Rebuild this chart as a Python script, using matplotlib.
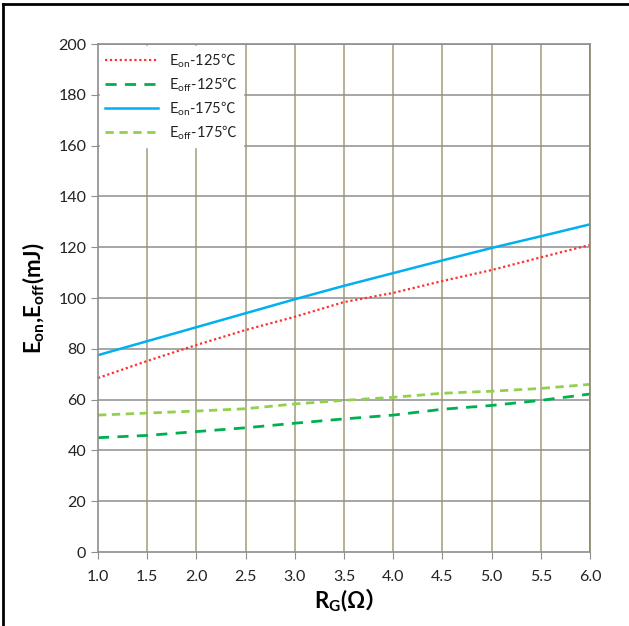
import matplotlib.pyplot as plt
from matplotlib.lines import Line2D

plt.rcParams['mathtext.fontset'] = 'custom'
plt.rcParams['mathtext.rm'] = 'Lato'
plt.rcParams['mathtext.bf'] = 'Lato:bold'
plt.rcParams['mathtext.it'] = 'Lato:italic'
plt.rcParams['mathtext.sf'] = 'Noto Sans CJK SC'
plt.rcParams['mathtext.cal'] = 'Noto Sans CJK SC:bold'

# data
rg = [1.0, 1.5, 2.0, 2.5, 3.0, 3.5, 4.0, 4.5, 5.0, 5.5, 6.0]
eon_125 = [68.5, 75.2, 81.5, 87.4, 92.6, 98.4, 102.0, 106.7, 111.0, 116.0, 120.9]
eoff_125 = [45.0, 45.9, 47.4, 48.9, 50.7, 52.4, 53.9, 56.2, 57.7, 59.7, 62.2]
eon_175 = [77.5, 83.0, 88.5, 94.0, 99.5, 104.8, 109.8, 114.8, 119.7, 124.3, 129.0]
eoff_175 = [53.9, 54.7, 55.5, 56.4, 58.3, 59.7, 60.9, 62.5, 63.3, 64.4, 66.0]
x_ticks = [1.0, 1.5, 2.0, 2.5, 3.0, 3.5, 4.0, 4.5, 5.0, 5.5, 6.0]
y_ticks = [0, 20, 40, 60, 80, 100, 120, 140, 160, 180, 200]

fam = ['Lato', 'DejaVu Sans', 'Noto Sans CJK SC']
deg = '$\\mathsf{℃}$'

fig = plt.figure(figsize=(6.29, 6.26), dpi=100)
ax = fig.add_axes([98/629, 1-552/626, 492/629, 508/626])

# grid: vertical olive, horizontal grey
for xv in x_ticks[1:]:
    ax.axvline(xv, color='#A39B78', lw=1.1, zorder=0)
for yv in y_ticks[1:]:
    ax.axhline(yv, color='#8E8E8E', lw=1.1, zorder=0)

ax.plot(rg, eon_125, color='#FF3030', lw=1.6, linestyle=(0, (1, 1.2)), label='E$_\\mathrm{on}$-125' + deg)
ax.plot(rg, eoff_125, color='#00B050', lw=2.0, linestyle=(0, (4, 3)), label='E$_\\mathrm{off}$-125' + deg)
ax.plot(rg, eon_175, color='#00B0F0', lw=1.8, label='E$_\\mathrm{on}$-175' + deg)
ax.plot(rg, eoff_175, color='#92D050', lw=2.0, linestyle=(0, (3, 2)), label='E$_\\mathrm{off}$-175' + deg)

ax.set_xlim(1.0, 6.0)
ax.set_ylim(0, 200)
ax.set_xticks(x_ticks)
ax.set_xticklabels(['%.1f' % v for v in x_ticks])
ax.set_yticks(y_ticks)
ax.tick_params(axis='both', direction='out', length=5, color='#8E8E8E', labelsize=11.5, labelcolor='#222222')
ax.tick_params(axis='x', pad=8)
for lab in ax.get_xticklabels() + ax.get_yticklabels():
    lab.set_family(fam)

ax.spines['left'].set_color('#8E8E8E')
ax.spines['bottom'].set_color('#8E8E8E')
ax.spines['top'].set_color('#8E8E8E')
ax.spines['right'].set_color('#8A8468')
for s in ax.spines.values():
    s.set_linewidth(1.2)

ax.set_ylabel('E$_\\mathbf{on}$,E$_\\mathbf{off}$(mJ)', fontsize=16, fontweight='bold', family=fam, labelpad=8)
ax.set_xlabel('R$_\\mathbf{G}$(Ω$\\mathcal{）}$', fontsize=16, fontweight='bold', family=fam, labelpad=2)

leg = ax.legend(loc='upper left', frameon=True, fancybox=False, edgecolor='white', framealpha=1,
                handlelength=3.6, borderaxespad=0.15, labelspacing=0.38, borderpad=0.35,
                prop={'family': fam, 'size': 10.5})
for t in leg.get_texts():
    t.set_color('#222222')

# figure frame on top and left
fig.add_artist(Line2D([3/629, 3/629], [0, 1-4/626], color='black', lw=2, transform=fig.transFigure))
fig.add_artist(Line2D([3/629, 1], [1-4/626, 1-4/626], color='black', lw=2, transform=fig.transFigure))

fig.savefig('out.png', dpi=100)
